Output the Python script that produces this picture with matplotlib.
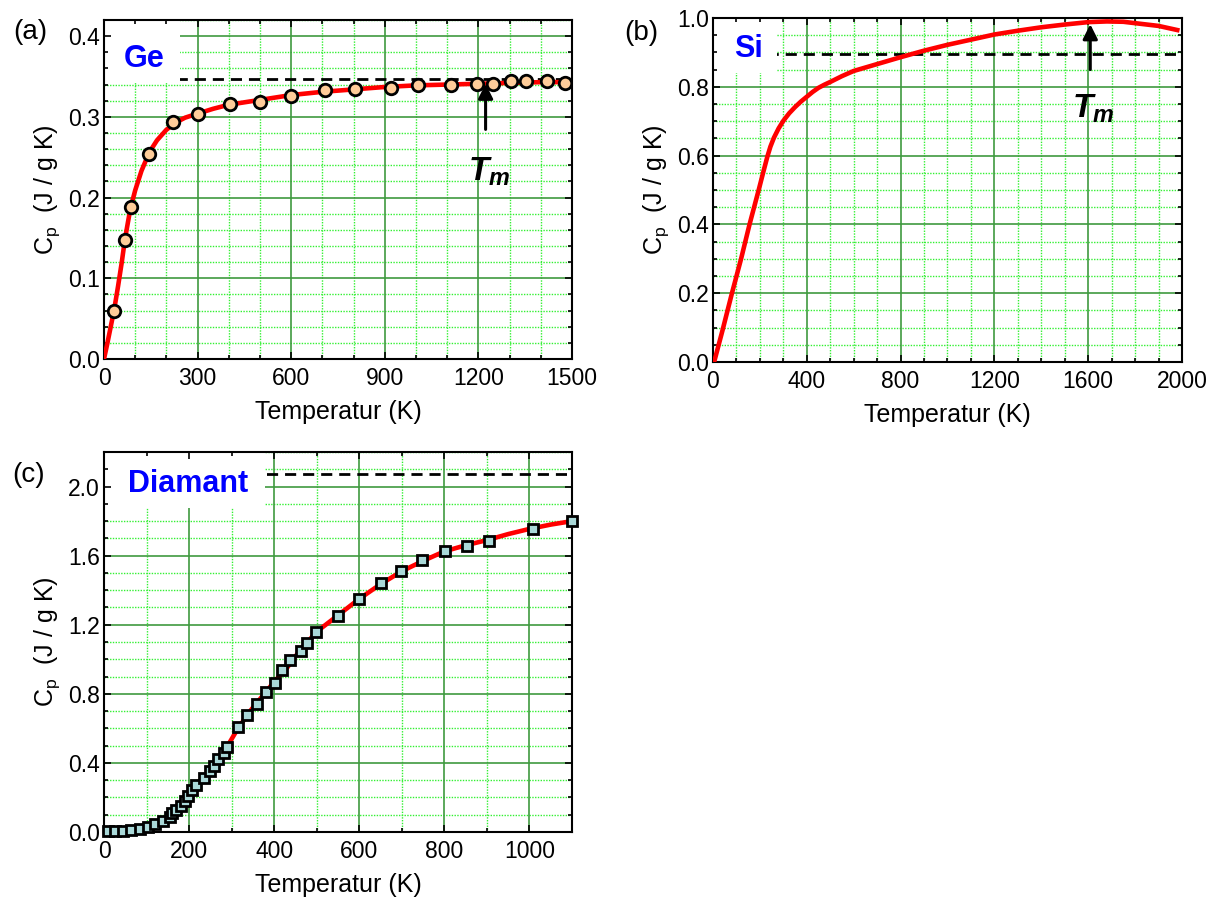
import matplotlib
matplotlib.use('Agg')
import matplotlib.pyplot as plt
from matplotlib.patches import Rectangle
from matplotlib.ticker import MultipleLocator, FormatStrFormatter

plt.rcParams['font.family'] = ['Liberation Sans', 'DejaVu Sans']
plt.rcParams['mathtext.fontset'] = 'custom'
plt.rcParams['mathtext.rm'] = 'Liberation Sans'
plt.rcParams['mathtext.it'] = 'Liberation Sans:bold:italic'
plt.rcParams['mathtext.bf'] = 'Liberation Sans:bold'

# --- Ge (a): measured points and fit curve
ge_T = [33, 67, 85, 145, 220, 302, 404, 500, 599, 708, 805, 920, 1006, 1113,
        1196, 1248, 1306, 1352, 1419, 1479]
ge_cp = [0.060, 0.148, 0.188, 0.254, 0.293, 0.304, 0.316, 0.319, 0.326, 0.333,
         0.335, 0.336, 0.340, 0.340, 0.341, 0.341, 0.344, 0.344, 0.344, 0.342]
ge_fit_T = [0, 10, 20, 33, 45, 57, 67, 77, 85, 100, 120, 145, 170, 200, 230, 260,
            300, 350, 400, 500, 600, 700, 800, 900, 1000, 1100, 1200, 1300, 1400, 1480]
ge_fit_cp = [0.0, 0.018, 0.037, 0.062, 0.090, 0.120, 0.148, 0.170, 0.187, 0.209,
             0.233, 0.256, 0.271, 0.284, 0.293, 0.299, 0.304, 0.310, 0.315, 0.321,
             0.327, 0.331, 0.334, 0.337, 0.339, 0.340, 0.341, 0.342, 0.343, 0.343]
ge_dp = 0.347
ge_Tm = 1223

# --- Si (b): curve
si_T = [5, 40, 81, 120, 156, 195, 215, 232, 245, 260, 280, 300, 325, 350, 375, 400,
        425, 450, 475, 500, 550, 600, 700, 800, 900, 1000, 1100, 1200, 1300, 1400,
        1500, 1600, 1680, 1750, 1800, 1900, 1980]
si_cp = [0.0, 0.09, 0.2, 0.3, 0.4, 0.5, 0.553, 0.597, 0.626, 0.652, 0.679, 0.701,
         0.723, 0.741, 0.757, 0.771, 0.785, 0.797, 0.806, 0.814, 0.831, 0.846,
         0.866, 0.886, 0.905, 0.922, 0.937, 0.952, 0.963, 0.973, 0.981, 0.988,
         0.990, 0.989, 0.985, 0.977, 0.965]
si_dp = 0.896
si_Tm = 1609

# --- Diamant (c): measured points and fit curve
dia_T = [9, 26, 44, 63, 84, 104, 121, 139, 155, 160, 170, 180, 190, 198, 207, 216,
         234, 248, 258, 269, 281, 290, 316, 337, 360, 380, 401, 419, 436, 464, 478,
         499, 549, 599, 652, 699, 748, 801, 853, 906, 1008, 1099]
dia_cp = [0.003, 0.003, 0.006, 0.009, 0.018, 0.027, 0.045, 0.066, 0.089, 0.11, 0.13,
          0.15, 0.18, 0.21, 0.246, 0.275, 0.313, 0.352, 0.385, 0.425, 0.458, 0.494,
          0.61, 0.679, 0.74, 0.81, 0.86, 0.937, 0.998, 1.05, 1.096, 1.158, 1.248,
          1.35, 1.44, 1.51, 1.573, 1.627, 1.658, 1.687, 1.754, 1.80]
dia_fit_T = [0, 50, 100, 130, 160, 190, 220, 250, 280, 310, 340, 370, 400, 430, 460,
             500, 550, 600, 650, 700, 750, 800, 850, 900, 950, 1000, 1050, 1100]
dia_fit_cp = [0.0, 0.004, 0.025, 0.055, 0.11, 0.18, 0.283, 0.357, 0.455, 0.58, 0.69,
              0.78, 0.87, 0.95, 1.05, 1.16, 1.255, 1.35, 1.435, 1.51, 1.57, 1.625,
              1.66, 1.69, 1.725, 1.755, 1.78, 1.80]
dia_dp = 2.07

MAJ = '#3f9a3f'
MIN = '#33f033'
RED = '#ff0000'

fig = plt.figure(figsize=(12.15, 9.09), dpi=100)
axa = fig.add_axes([0.0856, 0.6051, 0.3852, 0.3729])
axb = fig.add_axes([0.5868, 0.6018, 0.3860, 0.3784])
axc = fig.add_axes([0.0856, 0.0847, 0.3852, 0.4180])


def setup(ax, xlim, ylim, xmaj, xmin, ymaj, ymin, yfmt):
    ax.set_xlim(*xlim)
    ax.set_ylim(*ylim)
    ax.xaxis.set_major_locator(MultipleLocator(xmaj))
    ax.xaxis.set_minor_locator(MultipleLocator(xmin))
    ax.yaxis.set_major_locator(MultipleLocator(ymaj))
    ax.yaxis.set_minor_locator(MultipleLocator(ymin))
    ax.yaxis.set_major_formatter(FormatStrFormatter(yfmt))
    ax.tick_params(which='both', direction='in', top=True, right=True,
                   width=1.2, labelsize=16.5)
    ax.tick_params(which='major', length=5)
    ax.tick_params(which='minor', length=3)
    ax.tick_params(axis='x', pad=6)
    ax.tick_params(axis='y', pad=3)
    for s in ax.spines.values():
        s.set_linewidth(1.5)
    # green grid drawn by hand so the ticks stay on top of the label boxes
    for x in ax.xaxis.get_minorticklocs():
        ax.axvline(x, color=MIN, ls=(0, (1, 1)), lw=1, zorder=0.4)
    for y in ax.yaxis.get_minorticklocs():
        ax.axhline(y, color=MIN, ls=(0, (1, 1)), lw=1, zorder=0.4)
    for x in ax.get_xticks():
        if xlim[0] < x < xlim[1]:
            ax.axvline(x, color=MAJ, lw=1.2, zorder=0.5)
    for y in ax.get_yticks():
        if ylim[0] < y < ylim[1]:
            ax.axhline(y, color=MAJ, lw=1.2, zorder=0.5)
    ax.set_xlabel('Temperatur (K)', fontsize=18, labelpad=7)
    ax.set_ylabel(r'C$_\mathrm{p}$  (J / g K)', fontsize=18, labelpad=4)


# (a) Ge
setup(axa, (0, 1500), (0, 0.42), 300, 100, 0.1, 0.02, '%.1f')
axa.axhline(ge_dp, color='k', ls=(0, (4, 2.5)), lw=2, zorder=1)
axa.add_patch(Rectangle((0, 0.3435), 245, 0.08, facecolor='white',
                        edgecolor='none', zorder=1.5))
axa.plot(ge_fit_T, ge_fit_cp, color=RED, lw=3.3, zorder=3)
axa.plot(ge_T, ge_cp, 'o', ms=9, mfc='#ffcc99', mec='k', mew=2, zorder=4)
axa.text(130, 0.372, 'Ge', color='#0000ff', fontsize=22, fontweight='bold',
         ha='center', va='center', zorder=5)
axa.annotate('', xy=(ge_Tm, 0.3445), xytext=(ge_Tm, 0.281),
             arrowprops=dict(arrowstyle='-|>', color='k', lw=2.2, mutation_scale=22),
             zorder=5)
axa.text(ge_Tm + 12, 0.232, r'$T_m$', fontsize=24, ha='center', va='center', zorder=5)

# (b) Si
setup(axb, (0, 2000), (0, 1.0), 400, 100, 0.2, 0.05, '%.1f')
axb.axhline(si_dp, color='k', ls=(0, (4, 2.5)), lw=2, zorder=1)
axb.add_patch(Rectangle((0, 0.84), 272, 0.17, facecolor='white',
                        edgecolor='none', zorder=1.5))
axb.plot(si_T, si_cp, color=RED, lw=3.3, zorder=3)
axb.text(153, 0.91, 'Si', color='#0000ff', fontsize=22, fontweight='bold',
         ha='center', va='center', zorder=5)
axb.annotate('', xy=(si_Tm, 0.99), xytext=(si_Tm, 0.842),
             arrowprops=dict(arrowstyle='-|>', color='k', lw=2.2, mutation_scale=22),
             zorder=5)
axb.text(si_Tm + 12, 0.735, r'$T_m$', fontsize=24, ha='center', va='center', zorder=5)

# (c) Diamant
setup(axc, (0, 1100), (0, 2.2), 200, 100, 0.4, 0.1, '%.1f')
axc.axhline(dia_dp, color='k', ls=(0, (4, 2.5)), lw=2, zorder=1)
axc.add_patch(Rectangle((0, 1.875), 378, 0.35, facecolor='white',
                        edgecolor='none', zorder=1.5))
axc.plot(dia_fit_T, dia_fit_cp, color=RED, lw=3.3, zorder=3)
axc.plot(dia_T, dia_cp, 's', ms=7.5, mfc='#a9d8d8', mec='k', mew=2, zorder=4,
         clip_on=False)
axc.text(197, 2.013, 'Diamant', color='#0000ff', fontsize=22, fontweight='bold',
         ha='center', va='center', zorder=5)

fig.text(30 / 1215, 1 - 32 / 909, '(a)', fontsize=20, ha='center', va='center')
fig.text(641 / 1215, 1 - 33 / 909, '(b)', fontsize=20, ha='center', va='center')
fig.text(29 / 1215, 1 - 475 / 909, '(c)', fontsize=20, ha='center', va='center')

fig.savefig('out.png', dpi=100)
